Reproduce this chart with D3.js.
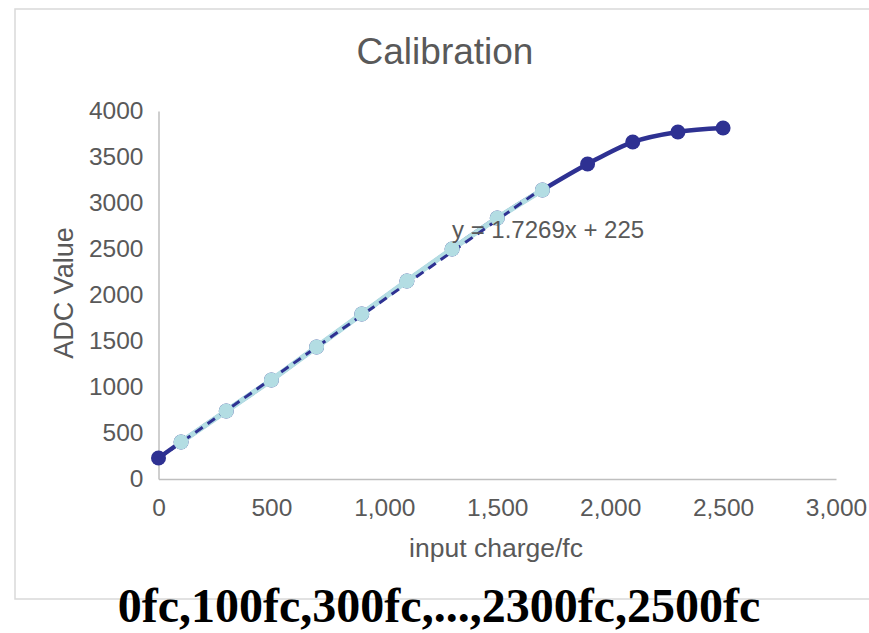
<!DOCTYPE html>
<html>
<head>
<meta charset="utf-8">
<script src="https://cdn.jsdelivr.net/npm/d3@7"></script>
<style>
  html, body { margin: 0; padding: 0; background: #fff; }
  svg { display: block; }
</style>
</head>
<body>
<svg id="chart" width="869" height="633"></svg>
<script>
// ---- data ----
const charge = [0, 100, 300, 500, 700, 900, 1100, 1300, 1500, 1700, 1900, 2100, 2300, 2500];
const adcValue = [228, 402, 739, 1076, 1435, 1793, 2152, 2500, 2837, 3141, 3424, 3663, 3772, 3815];
const linearCharge = [100, 300, 500, 700, 900, 1100, 1300, 1500, 1700];
const linearAdc = [402, 739, 1076, 1435, 1793, 2152, 2500, 2837, 3141];
const fitSlope = 1.7269, fitIntercept = 225;
const xTicks = [0, 500, 1000, 1500, 2000, 2500, 3000];
const yTicks = [0, 500, 1000, 1500, 2000, 2500, 3000, 3500, 4000];
const titleText = "Calibration";
const xTitle = "input charge/fc";
const yTitle = "ADC Value";
const eqText = "y = 1.7269x + 225";
const captionText = "0fc,100fc,300fc,...,2300fc,2500fc";

const svg = d3.select("#chart");
const grey = "#595959";
const dark = "#2E3192";
const light = "#B3DDE3";
const sans = "Arial, 'Liberation Sans', sans-serif";

// chart border
svg.append("rect").attr("x", 15).attr("y", 9).attr("width", 880).attr("height", 590)
  .attr("fill", "none").attr("stroke", "#d9d9d9").attr("stroke-width", 1.5);

const x = d3.scaleLinear().domain([0, 3000]).range([158.5, 836]);
const y = d3.scaleLinear().domain([0, 4000]).range([479, 111]);

// axes
const xAxis = svg.append("g").attr("transform", `translate(0,${y(0)})`)
  .call(d3.axisBottom(x).tickValues(xTicks).tickSize(0).tickPadding(20).tickFormat(d3.format(",")));
xAxis.select(".domain").attr("stroke", "#bfbfbf").attr("stroke-width", 1.5);
xAxis.selectAll("text").attr("fill", grey).style("font-family", sans).style("font-size", "24.5px");

const yAxis = svg.append("g").attr("transform", `translate(${x(0)},0)`)
  .call(d3.axisLeft(y).tickValues(yTicks).tickSize(0).tickPadding(15).tickFormat(d3.format("d")));
yAxis.select(".domain").attr("stroke", "#bfbfbf").attr("stroke-width", 1.5);
yAxis.selectAll("text").attr("fill", grey).style("font-family", sans).style("font-size", "24.5px");

// main series (smoothed)
const pts = charge.map((c, i) => [c, adcValue[i]]);
const line = d3.line().x(d => x(d[0])).y(d => y(d[1])).curve(d3.curveCatmullRom.alpha(0.5));
svg.append("path").datum(pts).attr("d", line).attr("fill", "none")
  .attr("stroke", dark).attr("stroke-width", 4.5);
svg.append("g").selectAll("circle").data(pts).join("circle")
  .attr("cx", d => x(d[0])).attr("cy", d => y(d[1])).attr("r", 7.5).attr("fill", dark);

// linear region series
const lpts = linearCharge.map((c, i) => [c, linearAdc[i]]);
svg.append("path").datum(lpts).attr("d", d3.line().x(d => x(d[0])).y(d => y(d[1])))
  .attr("fill", "none").attr("stroke", light).attr("stroke-width", 5.5);

// trendline (dashed)
const tEnd = linearCharge[linearCharge.length - 1];
svg.append("path").datum([[0, fitIntercept], [tEnd, fitSlope * tEnd + fitIntercept]])
  .attr("d", d3.line().x(d => x(d[0])).y(d => y(d[1])))
  .attr("fill", "none").attr("stroke", dark).attr("stroke-width", 3).attr("stroke-dasharray", "9,6");

svg.append("g").selectAll("circle").data(lpts).join("circle")
  .attr("cx", d => x(d[0])).attr("cy", d => y(d[1])).attr("r", 7.5).attr("fill", light);

// equation label
svg.append("text").attr("x", 452).attr("y", 238).text(eqText)
  .attr("fill", grey).style("font-family", sans).style("font-size", "24px");

// titles
svg.append("text").attr("x", 445).attr("y", 64).attr("text-anchor", "middle").text(titleText)
  .attr("fill", grey).style("font-family", sans).style("font-size", "37px");
svg.append("text").attr("x", 496).attr("y", 557).attr("text-anchor", "middle").text(xTitle)
  .attr("fill", grey).style("font-family", sans).style("font-size", "26.5px");
svg.append("text").attr("transform", "translate(73,293) rotate(-90)").attr("text-anchor", "middle").text(yTitle)
  .attr("fill", grey).style("font-family", sans).style("font-size", "27px");

// caption
svg.append("text").attr("x", 439).attr("y", 622).attr("text-anchor", "middle").text(captionText)
  .attr("fill", "#000").style("font-family", "'Liberation Serif', 'Times New Roman', serif")
  .style("font-weight", "bold").style("font-size", "48px");
</script>
</body>
</html>
